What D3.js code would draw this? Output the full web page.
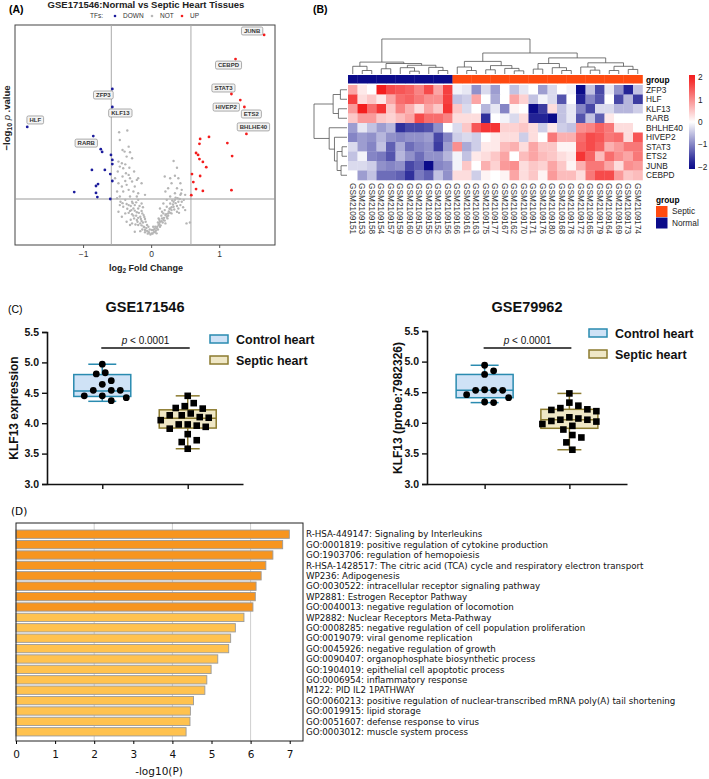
<!DOCTYPE html>
<html>
<head>
<meta charset="utf-8">
<script src="https://cdn.jsdelivr.net/npm/d3@7"></script>
<style>
  body { margin: 0; background: #fff; }
  svg { display: block; font-family: "Liberation Sans", Arial, sans-serif; }
</style>
</head>
<body>
<svg id="fig" width="709" height="779"></svg>
<script>
// ---------------- (A) volcano: [log2FC, -log10 p, label] ----------------
var tfDown = [[-1.82, 3.90, "HLF"], [-0.57, 5.27, "ZFP3"], [-0.57, 4.62, "KLF13"], [-0.85, 3.57, "RARB"],
  [-0.74, 3.10], [-0.72, 3.00], [-0.59, 2.89], [-0.57, 2.71], [-0.57, 2.56], [-0.87, 2.35], [-0.68, 2.35],
  [-0.60, 2.20], [-0.57, 1.95], [-0.78, 1.84], [-0.81, 1.77], [-1.13, 1.55], [-0.81, 1.52], [-0.79, 1.37], [-0.60, 1.30]];
var tfUp = [[1.66, 7.22, "JUNB"], [1.24, 6.35, "CEBPD"], [1.18, 5.09, "STAT3"], [1.31, 4.87, "HIVEP2"],
  [1.37, 4.62, "ETS2"], [1.40, 3.65, "BHLHE40"], [0.85, 3.54], [0.72, 3.47], [0.71, 3.29], [1.12, 3.32],
  [0.66, 2.96], [0.69, 2.89], [0.71, 2.74], [1.19, 2.85], [0.76, 2.64], [0.81, 2.45], [0.60, 2.20],
  [0.72, 2.13], [0.62, 1.91], [0.66, 1.66], [0.76, 1.59], [1.18, 1.62], [0.59, 1.44]];
var tfNot = [[-0.47, 3.71], [-0.35, 3.77], [-0.46, 3.43], [-0.33, 3.19], [-0.42, 3.07], [-0.39, 3.01], [-0.31, 2.99],
  [-0.36, 2.83], [-0.28, 2.77], [-0.48, 2.65], [-0.43, 2.59], [-0.38, 2.55], [-0.46, 2.47], [-0.32, 2.43],
  [-0.41, 2.41], [-0.49, 2.29], [-0.25, 2.29], [-0.37, 2.23], [-0.33, 2.17], [-0.42, 2.11], [-0.19, 2.05],
  [-0.31, 2.05], [-0.53, 2.05], [-0.21, 1.99], [-0.38, 1.95], [-0.28, 1.93], [-0.48, 1.87], [-0.14, 1.87],
  [-0.36, 1.81], [-0.43, 1.75], [-0.24, 1.75], [-0.33, 1.63], [-0.50, 1.57], [-0.41, 1.57], [-0.26, 1.57],
  [-0.19, 1.51], [-0.09, 1.45], [-0.46, 1.39], [-0.31, 1.39], [-0.21, 1.39], [-0.50, 1.33],
  [0.33, 2.67], [0.38, 2.43], [0.20, 2.11], [0.28, 2.05], [0.35, 2.14], [0.40, 2.05], [0.43, 1.87], [0.30, 1.87],
  [0.25, 1.69], [0.38, 1.69], [0.45, 1.63], [0.21, 1.57], [0.35, 1.51], [0.43, 1.45], [0.50, 1.45], [0.28, 1.39],
  [0.39, 1.33], [0.48, 1.27], [0.23, 1.27], [0.33, 1.20], [0.43, 1.08], [0.50, 0.90], [0.38, 0.84], [0.30, 0.90],
  [0.25, 0.78], [0.21, 0.72], [0.16, 0.60], [0.52, 0.42], [0.57, 0.45],
  [-0.38, 1.27], [-0.28, 1.20], [-0.19, 1.27], [-0.33, 1.08], [-0.24, 1.08], [-0.14, 1.14], [-0.41, 1.02],
  [-0.26, 0.96], [-0.19, 0.96], [-0.31, 0.87], [-0.21, 0.82], [-0.14, 0.87], [-0.38, 0.78], [-0.26, 0.70],
  [-0.16, 0.66], [-0.11, 0.72], [-0.21, 0.54], [-0.14, 0.51], [-0.09, 0.58], [-0.28, 0.42], [-0.19, 0.36],
  [-0.11, 0.30], [-0.06, 0.36], [-0.16, 0.14], [-0.09, 0.18], [-0.04, 0.12], [-0.01, 0.02], [0.01, 0.06],
  [-0.46, 1.08], [-0.48, 0.84], [-0.43, 0.66], [-0.36, 0.48], [-0.31, 0.36], [-0.24, 0.12],
  [0.06, 0.12], [0.08, 0.24], [0.11, 0.36], [0.06, 0.30], [0.13, 0.48], [0.18, 0.54], [0.11, 0.60], [0.23, 0.66],
  [0.18, 0.78], [0.28, 0.96], [0.23, 1.02], [0.33, 1.02], [0.18, 1.14], [0.28, 1.14], [0.35, 1.27], [0.13, 0.96],
  [0.16, 0.84], [0.30, 0.78], [0.40, 0.96], [0.45, 1.20], [0.03, 0.18], [0.08, 0.06], [0.01, 0.18], [0.13, 0.30],
  [0.21, 0.42],
  [-0.45, 1.20], [-0.42, 1.15], [-0.36, 1.12], [-0.30, 1.05], [-0.27, 1.15], [-0.22, 1.18], [-0.17, 1.05],
  [-0.12, 1.00], [-0.35, 0.95], [-0.29, 0.90], [-0.24, 0.88], [-0.18, 0.80], [-0.13, 0.78], [-0.33, 0.80],
  [-0.28, 0.75], [-0.22, 0.70], [-0.19, 0.62], [-0.15, 0.58], [-0.10, 0.65], [-0.25, 0.60], [-0.30, 0.55],
  [-0.20, 0.48], [-0.16, 0.42], [-0.12, 0.45], [-0.08, 0.48], [-0.23, 0.38], [-0.14, 0.35], [-0.10, 0.28],
  [-0.07, 0.25], [-0.13, 0.20], [-0.06, 0.15], [-0.03, 0.08], [-0.05, 0.05], [-0.09, 0.10], [-0.02, 0.20],
  [-0.04, 0.30], [0.02, 0.05], [0.04, 0.10], [0.05, 0.22], [0.07, 0.16], [0.09, 0.30], [0.10, 0.20], [0.12, 0.40],
  [0.14, 0.35], [0.15, 0.50], [0.17, 0.45], [0.12, 0.55], [0.19, 0.62], [0.20, 0.52], [0.22, 0.75], [0.24, 0.60],
  [0.26, 0.85], [0.25, 0.70], [0.28, 0.80], [0.30, 1.00], [0.27, 0.95], [0.32, 1.10], [0.34, 0.92], [0.36, 1.15],
  [0.38, 1.05], [0.40, 1.20], [0.31, 1.25], [0.36, 1.35], [0.42, 1.30], [0.20, 0.90], [0.15, 0.70], [0.10, 0.45],
  [0.03, 0.30], [0.44, 1.50], [0.47, 1.00], [0.41, 0.80]];
var fcCut = Math.log2(1.5), pCut = 1.3;
var volcanoTicks = [-1, 0, 1];

// ---------------- (B) heatmap ----------------
var rowGenes = ["ZFP3", "HLF", "KLF13", "RARB", "BHLHE40", "HIVEP2", "STAT3", "ETS2", "JUNB", "CEBPD"];
var samples = ["GSM2109151", "GSM2109153", "GSM2109158", "GSM2109154", "GSM2109157", "GSM2109159", "GSM2109160",
  "GSM2109150", "GSM2109155", "GSM2109152", "GSM2109156", "GSM2109166", "GSM2109161", "GSM2109163", "GSM2109175",
  "GSM2109177", "GSM2109167", "GSM2109162", "GSM2109170", "GSM2109171", "GSM2109176", "GSM2109180", "GSM2109168",
  "GSM2109178", "GSM2109172", "GSM2109165", "GSM2109179", "GSM2109164", "GSM2109169", "GSM2109173", "GSM2109174"];
var sampleGroup = d3.range(31).map(function (i) { return i < 11 ? "Normal" : "Septic"; });
var heatValues = [
  [0.8, 0.2, 0, 2, 1.6, 1.5, 1.4, 1.1, 1.6, 0.8, 1.7, -0.1, -0.2, -0.9, -0.3, -0.8, 0, -0.5, -0.2, 0, -0.8, -0.3, 0, -0.1, -2, -0.5, -1.5, -0.2, -0.9, -1.8, -0.5],
  [1.7, 0.3, 0.5, 0.2, 0.8, 1.3, 1.4, 1.2, 1.0, 1.0, 1.7, -0.5, -0.4, 0.8, 0, -0.7, 0, 0.8, 0.4, -0.5, -0.1, -0.3, -1.4, 0, -1.8, -1.0, -1.4, 0, -1.5, -0.6, -1.6],
  [0.9, 2, 1.3, 1.8, 0.5, 1.1, 0.7, 0.3, 0.8, 0.5, 1.8, 0.5, -0.3, 0, -0.6, -0.2, -1.0, 0.1, 0, -2, -1.6, 0.3, -0.5, -0.2, -1.0, -1.5, -0.3, -0.3, -0.6, -0.6, -0.4],
  [0.5, 0.9, 0.9, 0.5, 0.4, 0.6, 0.8, 1.6, 1.3, 1.3, 1.1, 0.3, 0.3, 0.3, -1.7, 0, -0.1, -0.3, 0.3, -1.8, -1.8, -2.2, -0.5, -0.2, -1.4, -0.5, -1.3, 0.2, 0, 0, 0],
  [-0.8, -0.2, -0.5, -0.8, -0.6, -1.7, -1.5, -1.5, -1.4, -0.9, 0, -0.3, 0.5, 1.5, 1.8, 1.8, 0.4, 0.4, 0.5, 0.3, -0.4, 0.2, -0.4, -0.5, 1.0, 1.1, 1.4, 1.2, 0.3, 0.3, 0],
  [-1.0, -0.8, -0.9, -0.6, -0.9, -1.0, -0.9, -0.9, -0.8, -1.5, -1.0, -0.4, -0.3, -0.4, 0, 0.2, 0.3, 0.3, -0.4, 0.3, 0, 1.2, 0.7, 0.7, 1.3, 1.6, 1.5, 1.2, 1.3, 0.3, 1.5],
  [-0.3, -0.8, -1.0, -0.5, -1.3, -0.7, -1.2, -1.0, -0.9, -1.6, -0.8, 1.0, -0.7, -0.4, 0.2, 0.2, 0.6, 0.7, 0.3, 0.8, 0.5, 0.5, 0.1, 0.1, 1.4, 1.6, 1.4, 0.7, 0.9, 1.2, 1.2],
  [-0.5, -0.1, -1.0, -1.1, -1.4, -0.6, -0.9, -1.2, -0.9, -0.9, -0.6, -0.1, -0.5, 0.2, 0.3, 0.5, 0.8, 0, 0.6, 0.8, 0.6, 0.5, 0.3, 0.2, 1.8, 1.4, 0.6, 1.3, 1.0, 0.8, 1.2],
  [-0.3, -0.3, -0.4, -0.9, -1.0, -0.9, -1.5, -1.3, -2, -1.0, -0.9, -0.1, 0.5, 0, 0.7, 0.4, 0.9, 1.0, 0.3, 0.5, 0.4, 0.8, 0.5, 0.1, 0.7, 1.2, 1.2, 0.8, 0.3, 1.0, 0.9],
  [0, -0.8, -0.5, -1.2, -1.2, -1.3, -1.7, -1.1, -1.3, -0.5, -0.9, 0.3, 0.3, -0.4, 0.1, 0, 0.1, 0.8, 0.3, 0.5, 0.1, 0.9, 0.6, 0.6, 0.3, 1.2, 1.6, 1.6, 0.9, 0.5, 0.6]];
// clustering trees: [left, right, height], leaves are indices
var colTree = [
  [[0, [1, 2, 1.0], 2.2], [[3, 4, 1.5], [[5, [6, 7, 0.8], 1.8], [8, [9, 10, 1.0], 1.9], 2.5], 3.0], 3.4],
  [[[11, [12, 13, 1.0], 2.0], [[14, 15, 1.2], [16, [17, 18, 0.9], 1.6], 2.4], 3.6],
   [[[19, 20, 1.4], [21, [22, 23, 1.0], 1.8], 3.0], [[24, [25, 26, 1.1], 2.0], [[27, 28, 1.0], [29, 30, 1.3], 2.2], 3.2], 4.6], 6.0],
  10];
var rowTree = [[[0, 1, 2.0], [2, 3, 2.6], 4.2], [4, [5, [[6, 7, 1.5], [8, 9, 1.8], 3.0], 3.8], 5.4], 10];
var heatLegendTicks = [2, 1, 0, -1, -2];

// ---------------- (C) KLF13 expression ----------------
var groupsC = ["Control heart", "Septic heart"];
var gse171546Control = [4.97, 4.83, 4.81, 4.70, 4.64, 4.54, 4.54, 4.54, 4.45, 4.45, 4.42, 4.37];
var gse171546Septic = [4.45, 4.33, 4.28, 4.25, 4.24, 4.16, 4.13, 4.13, 4.10, 4.09, 4.05, 3.98, 3.98, 3.96, 3.94, 3.91, 3.82, 3.72, 3.69, 3.58];
var gse171546Box = [[4.36, 4.44, 4.53, 4.80, 4.97], [3.58, 3.92, 4.08, 4.22, 4.45]];
var gse79962Control = [4.94, 4.85, 4.79, 4.54, 4.53, 4.53, 4.53, 4.46, 4.41, 4.34, 4.33];
var gse79962Septic = [4.48, 4.33, 4.28, 4.24, 4.22, 4.21, 4.19, 4.09, 4.07, 4.05, 4.05, 4.03, 4.02, 3.98, 3.95, 3.89, 3.80, 3.76, 3.68, 3.56];
var gse79962Box = [[4.33, 4.41, 4.53, 4.79, 4.94], [3.56, 3.91, 4.05, 4.22, 4.48]];
var exprTicks = [3.0, 3.5, 4.0, 4.5, 5.0, 5.5];

// ---------------- (D) enrichment ----------------
var goTerms = ["R-HSA-449147: Signaling by Interleukins",
  "GO:0001819: positive regulation of cytokine production",
  "GO:1903706: regulation of hemopoiesis",
  "R-HSA-1428517: The citric acid (TCA) cycle and respiratory electron transport",
  "WP236: Adipogenesis",
  "GO:0030522: intracellular receptor signaling pathway",
  "WP2881: Estrogen Receptor Pathway",
  "GO:0040013: negative regulation of locomotion",
  "WP2882: Nuclear Receptors Meta-Pathway",
  "GO:0008285: negative regulation of cell population proliferation",
  "GO:0019079: viral genome replication",
  "GO:0045926: negative regulation of growth",
  "GO:0090407: organophosphate biosynthetic process",
  "GO:1904019: epithelial cell apoptotic process",
  "GO:0006954: inflammatory response",
  "M122: PID IL2 1PATHWAY",
  "GO:0060213: positive regulation of nuclear-transcribed mRNA poly(A) tail shortening",
  "GO:0019915: lipid storage",
  "GO:0051607: defense response to virus",
  "GO:0003012: muscle system process"];
var goLogP = [6.99, 6.82, 6.57, 6.39, 6.27, 6.14, 6.12, 6.06, 5.83, 5.61, 5.49, 5.44, 5.16, 4.99, 4.88, 4.83, 4.54, 4.46, 4.45, 4.35];
var goTicks = [0, 1, 2, 3, 4, 5, 6, 7];

var svg = d3.select("#fig");
svg.append("rect").attr("width", 709).attr("height", 779).attr("fill", "#fff");

function panelLabel(x, y, txt, bold) {
  svg.append("text").attr("x", x).attr("y", y).attr("font-size", 10.5)
    .attr("font-weight", bold ? "bold" : "normal").text(txt);
}

// ================= (A) =================
var gA = svg.append("g");
var xA = d3.scaleLinear().domain([-2.0, 1.82]).range([15, 275]);
var yA = d3.scaleLinear().domain([-0.36, 7.58]).range([245, 25]);

panelLabel(9, 13, "(A)", true);
gA.append("text").attr("x", 146).attr("y", 8).attr("text-anchor", "middle")
  .attr("font-size", 9.5).attr("font-weight", "bold").attr("fill", "#222")
  .text("GSE171546:Normal vs Septic Heart Tissues");

var legA = gA.append("g").attr("font-size", 6.5).attr("fill", "#333");
legA.append("text").attr("x", 90).attr("y", 18.3).text("TFs:");
[["DOWN", "#1c1c9c", 115], ["NOT", "#b8b8b8", 152], ["UP", "#f41c1c", 182]].forEach(function (d) {
  legA.append("circle").attr("cx", d[2]).attr("cy", 16).attr("r", 1.3).attr("fill", d[1]);
  legA.append("text").attr("x", d[2] + 8).attr("y", 18.3).text(d[0]);
});

gA.append("rect").attr("x", 15).attr("y", 25).attr("width", 260).attr("height", 220)
  .attr("fill", "none").attr("stroke", "#444").attr("stroke-width", 1);

[-fcCut, fcCut].forEach(function (v) {
  gA.append("line").attr("x1", xA(v)).attr("x2", xA(v)).attr("y1", 25).attr("y2", 245)
    .attr("stroke", "#aaa").attr("stroke-width", 1);
});
gA.append("line").attr("x1", 15).attr("x2", 275).attr("y1", yA(pCut)).attr("y2", yA(pCut))
  .attr("stroke", "#999").attr("stroke-width", 1);

gA.append("g").selectAll("circle").data(tfNot).enter().append("circle")
  .attr("cx", function (d) { return xA(d[0]); })
  .attr("cy", function (d) { return yA(d[1]); })
  .attr("r", 1.2).attr("fill", "#b5b5b5");
gA.append("g").selectAll("circle").data(tfDown).enter().append("circle")
  .attr("cx", function (d) { return xA(d[0]); })
  .attr("cy", function (d) { return yA(d[1]); })
  .attr("r", 1.4).attr("fill", "#1c1c9c");
gA.append("g").selectAll("circle").data(tfUp).enter().append("circle")
  .attr("cx", function (d) { return xA(d[0]); })
  .attr("cy", function (d) { return yA(d[1]); })
  .attr("r", 1.4).attr("fill", "#f41c1c");

// repel-style label offsets (px)
var nudge = { JUNB: [-12, -4], CEBPD: [-7, 6], STAT3: [-8, -6], HIVEP2: [-14, 7], ETS2: [7, 7],
  BHLHE40: [7, -7], ZFP3: [-9, 6], KLF13: [8, 6], HLF: [8, -7], RARB: [-7, 7] };
var labelled = tfDown.concat(tfUp).filter(function (d) { return d[2]; });
labelled.forEach(function (d) {
  var cx = xA(d[0]) + nudge[d[2]][0], cy = yA(d[1]) + nudge[d[2]][1];
  var lg = gA.append("g");
  var t = lg.append("text").attr("x", cx).attr("y", cy + 2.1).attr("text-anchor", "middle")
    .attr("font-size", 6).attr("font-weight", "bold").attr("fill", "#333").text(d[2]);
  var w = t.node().getComputedTextLength() + 5;
  lg.insert("rect", "text").attr("x", cx - w / 2).attr("y", cy - 4).attr("width", w).attr("height", 8)
    .attr("rx", 1.5).attr("fill", "#f3f3f3").attr("stroke", "#8a8a8a").attr("stroke-width", 0.7);
});

var axA = gA.append("g").attr("transform", "translate(0,245)")
  .call(d3.axisBottom(xA).tickValues(volcanoTicks).tickSize(3).tickFormat(d3.format("d")));
axA.select(".domain").remove();
axA.selectAll("line").attr("stroke", "#555");
axA.selectAll("text").attr("font-size", 8.5).attr("fill", "#333").attr("font-family", "Liberation Sans, Arial");

var xlabA = gA.append("text").attr("x", 146).attr("y", 271).attr("text-anchor", "middle")
  .attr("font-size", 9).attr("font-weight", "bold").attr("fill", "#222");
xlabA.append("tspan").text("log");
xlabA.append("tspan").attr("font-size", 6.5).attr("dy", 2).text("2");
xlabA.append("tspan").attr("dy", -2).text(" Fold Change");

var ylabA = gA.append("text").attr("transform", "translate(10,118) rotate(-90)").attr("text-anchor", "middle")
  .attr("font-size", 9.5).attr("font-weight", "bold").attr("fill", "#222");
ylabA.append("tspan").text("\u2212log");
ylabA.append("tspan").attr("font-size", 7).attr("dy", 2).text("10");
ylabA.append("tspan").attr("dy", -2).text(" ");
ylabA.append("tspan").attr("font-style", "italic").attr("font-weight", "normal").text("p");
ylabA.append("tspan").text(" .value");

// ================= (B) =================
var gB = svg.append("g");
panelLabel(313, 13, "(B)", true);
var xB = d3.scaleBand().domain(d3.range(samples.length)).range([348, 642.5]);
var yB = d3.scaleBand().domain(d3.range(rowGenes.length)).range([85, 180]);
var heatColor = d3.scaleLinear().domain([-2, 0, 2]).range(["#0b0b8a", "#ffffff", "#f41e1e"]).clamp(true);
var groupColor = { Septic: "#ff4a10", Normal: "#0b0b8a" };

heatValues.forEach(function (row, r) {
  gB.append("g").selectAll("rect").data(row).enter().append("rect")
    .attr("x", function (d, i) { return xB(i); })
    .attr("y", yB(r))
    .attr("width", xB.bandwidth() + 0.3)
    .attr("height", yB.bandwidth() + 0.3)
    .attr("fill", function (d) { return heatColor(d); });
});

gB.append("g").selectAll("rect").data(sampleGroup).enter().append("rect")
  .attr("x", function (d, i) { return xB(i); })
  .attr("y", 75).attr("width", xB.bandwidth() + 0.3).attr("height", 8.5)
  .attr("fill", function (d) { return groupColor[d]; });
gB.append("text").attr("x", 646).attr("y", 82.5).attr("font-size", 8.3).attr("font-weight", "bold").text("group");

gB.append("g").selectAll("text").data(rowGenes).enter().append("text")
  .attr("x", 646).attr("y", function (d, i) { return yB(i) + yB.bandwidth() / 2; })
  .attr("dy", "0.36em").attr("font-size", 8.3).attr("fill", "#222").text(function (d) { return d; });

gB.append("g").selectAll("text").data(samples).enter().append("text")
  .attr("transform", function (d, i) { return "translate(" + (xB(i) + xB.bandwidth() / 2) + ",183) rotate(90)"; })
  .attr("dy", "0.35em").attr("font-size", 8.3).attr("fill", "#333").text(function (d) { return d; });

function drawTree(node, pos, hs, g, vertical) {
  if (typeof node === "number") return { p: pos(node), h: 0 };
  var a = drawTree(node[0], pos, hs, g, vertical), b = drawTree(node[1], pos, hs, g, vertical), h = node[2];
  var path = vertical
    ? "M" + a.p + "," + hs(a.h) + "V" + hs(h) + "H" + b.p + "V" + hs(b.h)
    : "M" + hs(a.h) + "," + a.p + "H" + hs(h) + "V" + b.p + "H" + hs(b.h);
  g.append("path").attr("d", path).attr("fill", "none").attr("stroke", "#555").attr("stroke-width", 0.8);
  return { p: (a.p + b.p) / 2, h: h };
}
drawTree(colTree, function (i) { return xB(i) + xB.bandwidth() / 2; },
  d3.scaleLinear().domain([0, 10]).range([74, 39]), gB.append("g"), true);
drawTree(rowTree, function (i) { return yB(i) + yB.bandwidth() / 2; },
  d3.scaleLinear().domain([0, 10]).range([347, 314]), gB.append("g"), false);

// colour key
var keyY = d3.scaleLinear().domain([-2.1, 2.1]).range([169, 75]);
var grad = svg.append("defs").append("linearGradient").attr("id", "heatgrad")
  .attr("x1", 0).attr("y1", 1).attr("x2", 0).attr("y2", 0);
d3.range(-2.1, 2.11, 0.3).forEach(function (v) {
  grad.append("stop").attr("offset", (v + 2.1) / 4.2).attr("stop-color", heatColor(v));
});
gB.append("rect").attr("x", 689).attr("y", keyY(2.1)).attr("width", 6).attr("height", keyY(-2.1) - keyY(2.1))
  .attr("fill", "url(#heatgrad)");
gB.append("g").selectAll("text").data(heatLegendTicks).enter().append("text")
  .attr("x", 698).attr("y", function (d) { return keyY(d); }).attr("dy", "0.35em")
  .attr("font-size", 8.3).attr("fill", "#222")
  .text(function (d) { return d < 0 ? "\u2212" + (-d) : d; });

gB.append("text").attr("x", 656).attr("y", 202.5).attr("font-size", 8.3).attr("font-weight", "bold").text("group");
["Septic", "Normal"].forEach(function (k, i) {
  gB.append("rect").attr("x", 656).attr("y", 206 + i * 11.5).attr("width", 11.5).attr("height", 11)
    .attr("fill", groupColor[k]);
  gB.append("text").attr("x", 672).attr("y", 211.5 + i * 11.5).attr("dy", "0.35em")
    .attr("font-size", 8.3).attr("fill", "#222").text(k);
});

// ================= (C) =================
var boxFill = ["#cfe2f6", "#efe7c6"], boxStroke = ["#2a8bb0", "#8c7b2f"];

function swarm(values, x, y, step, minDist) {
  var placed = [];
  values.forEach(function (v) {
    var py = y(v), k = 0, px;
    while (true) {
      var off = (k % 2 === 1 ? 1 : -1) * Math.ceil(k / 2) * step;
      px = x + off;
      var ok = placed.every(function (p) { return Math.hypot(p[0] - px, p[1] - py) >= minDist; });
      if (ok) break;
      k++;
    }
    placed.push([px, py]);
  });
  return placed;
}

function exprPanel(cfg) {
  var g = svg.append("g");
  var y = d3.scaleLinear().domain([3.0, 5.5]).range([484, cfg.top]);
  var x = d3.scalePoint().domain(groupsC).range([cfg.left, cfg.right]).padding(cfg.pad);

  g.append("text").attr("x", cfg.titleX).attr("y", 312).attr("text-anchor", "middle")
    .attr("font-size", 14.5).attr("font-weight", "bold").attr("fill", "#111").text(cfg.title);

  var ay = g.append("g").attr("transform", "translate(" + cfg.left + ",0)")
    .call(d3.axisLeft(y).tickValues(exprTicks).tickSize(5).tickFormat(d3.format(".1f")));
  ay.select(".domain").attr("stroke", "#111").attr("stroke-width", 1.6);
  ay.selectAll("line").attr("stroke", "#111").attr("stroke-width", 1.4);
  ay.selectAll("text").attr("font-size", 10.5).attr("font-weight", "bold").attr("fill", "#111")
    .attr("font-family", "Liberation Sans, Arial");

  var ax = g.append("g").attr("transform", "translate(0,484)")
    .call(d3.axisBottom(x).tickSize(5).tickSizeOuter(0).tickFormat(""));
  ax.select(".domain").attr("stroke", "#111").attr("stroke-width", 1.6);
  ax.selectAll("line").attr("stroke", "#111").attr("stroke-width", 1.4);

  g.append("text").attr("transform", "translate(" + cfg.ylabX + ",408) rotate(-90)").attr("text-anchor", "middle")
    .attr("font-size", 12).attr("font-weight", "bold").attr("fill", "#111").text(cfg.ylab);

  var bw = 57;
  cfg.box.forEach(function (b, i) {
    var cx = x(groupsC[i]), cap = i === 0 ? 14 : 12;
    var bg = g.append("g").attr("stroke", boxStroke[i]).attr("stroke-width", 1.5);
    bg.append("line").attr("x1", cx).attr("x2", cx).attr("y1", y(b[0])).attr("y2", y(b[4]));
    bg.append("line").attr("x1", cx - cap).attr("x2", cx + cap).attr("y1", y(b[0])).attr("y2", y(b[0]));
    bg.append("line").attr("x1", cx - cap).attr("x2", cx + cap).attr("y1", y(b[4])).attr("y2", y(b[4]));
    bg.append("rect").attr("x", cx - bw / 2).attr("y", y(b[3])).attr("width", bw).attr("height", y(b[1]) - y(b[3]))
      .attr("fill", boxFill[i]);
    bg.append("line").attr("x1", cx - bw / 2).attr("x2", cx + bw / 2).attr("y1", y(b[2])).attr("y2", y(b[2]));
  });

  g.append("g").selectAll("circle").data(swarm(cfg.control, x(groupsC[0]), y, 3, 8.6)).enter().append("circle")
    .attr("cx", function (d) { return d[0]; }).attr("cy", function (d) { return d[1]; })
    .attr("r", 3.4).attr("fill", "#000");
  g.append("g").selectAll("rect").data(swarm(cfg.septic, x(groupsC[1]), y, 3, 8.6)).enter().append("rect")
    .attr("x", function (d) { return d[0] - 3.3; }).attr("y", function (d) { return d[1] - 3.3; })
    .attr("width", 6.6).attr("height", 6.6).attr("fill", "#000");

  var x0 = x(groupsC[0]) - 1, x1 = x(groupsC[1]) + 2;
  g.append("line").attr("x1", x0).attr("x2", x1).attr("y1", 348).attr("y2", 348)
    .attr("stroke", "#111").attr("stroke-width", 1.3);
  var pt = g.append("text").attr("x", (x0 + x1) / 2).attr("y", 343.5).attr("text-anchor", "middle")
    .attr("font-size", 10).attr("fill", "#111");
  pt.append("tspan").attr("font-style", "italic").text("p");
  pt.append("tspan").text(" < 0.0001");

  groupsC.forEach(function (name, i) {
    var ly = cfg.legY + i * 21;
    g.append("rect").attr("x", cfg.legX).attr("y", ly).attr("width", 18).attr("height", 8)
      .attr("fill", boxFill[i]).attr("stroke", boxStroke[i]).attr("stroke-width", 1.5);
    g.append("text").attr("x", cfg.legX + 26).attr("y", ly + 4).attr("dy", "0.36em")
      .attr("font-size", 12.5).attr("font-weight", "bold").attr("fill", "#111").text(name);
  });
}

panelLabel(8, 313, "(C)", false);
exprPanel({ title: "GSE171546", titleX: 145, left: 47, right: 243, pad: 0.647, top: 332,
  ylab: "KLF13 expression", ylabX: 18, control: gse171546Control, septic: gse171546Septic,
  box: gse171546Box, legX: 210, legY: 335 });
exprPanel({ title: "GSE79962", titleX: 527, left: 427, right: 627, pad: 0.68, top: 331,
  ylab: "KLF13 (probe:7982326)", ylabX: 402, control: gse79962Control, septic: gse79962Septic,
  box: gse79962Box, legX: 589, legY: 329 });

// ================= (D) =================
var gD = svg.append("g").attr("font-family", "DejaVu Sans, sans-serif");
svg.append("text").attr("x", 11).attr("y", 515).attr("font-size", 10.5)
  .attr("font-family", "DejaVu Sans, sans-serif").text("(D)");
var xD = d3.scaleLinear().domain([0, 7.34]).range([16, 303]);
var yD = d3.scaleBand().domain(goTerms).range([529, 737]).paddingInner(0.2).paddingOuter(0.1);

[2, 4, 6].forEach(function (v) {
  gD.append("line").attr("x1", xD(v)).attr("x2", xD(v)).attr("y1", 523).attr("y2", 741)
    .attr("stroke", "#cfcfcf").attr("stroke-width", 1);
});

gD.append("g").selectAll("rect").data(goTerms).enter().append("rect")
  .attr("x", xD(0))
  .attr("y", function (d) { return yD(d); })
  .attr("width", function (d, i) { return xD(goLogP[i]) - xD(0); })
  .attr("height", yD.bandwidth())
  .attr("fill", function (d, i) { return i < 8 ? "#f7951f" : "#ffc24f"; })
  .attr("stroke", "#9a9a9a").attr("stroke-width", 0.9);

gD.append("rect").attr("x", 16).attr("y", 523).attr("width", 287).attr("height", 218)
  .attr("fill", "none").attr("stroke", "#222").attr("stroke-width", 1);

gD.append("g").selectAll("text").data(goTerms).enter().append("text")
  .attr("x", 306).attr("y", function (d) { return yD(d) + yD.bandwidth() / 2; })
  .attr("dy", "0.36em").attr("font-size", 8.7).attr("fill", "#111").text(function (d) { return d; });

var axD = gD.append("g").attr("transform", "translate(0,741)")
  .call(d3.axisBottom(xD).tickValues(goTicks).tickSize(3).tickFormat(d3.format("d")));
axD.select(".domain").remove();
axD.selectAll("text").attr("font-size", 10.5).attr("fill", "#111").attr("font-family", "DejaVu Sans, sans-serif")
  .attr("dy", "1.0em");

gD.append("text").attr("x", 159).attr("y", 775).attr("text-anchor", "middle")
  .attr("font-size", 10.5).attr("fill", "#111").text("-log10(P)");
</script>
</body>
</html>
